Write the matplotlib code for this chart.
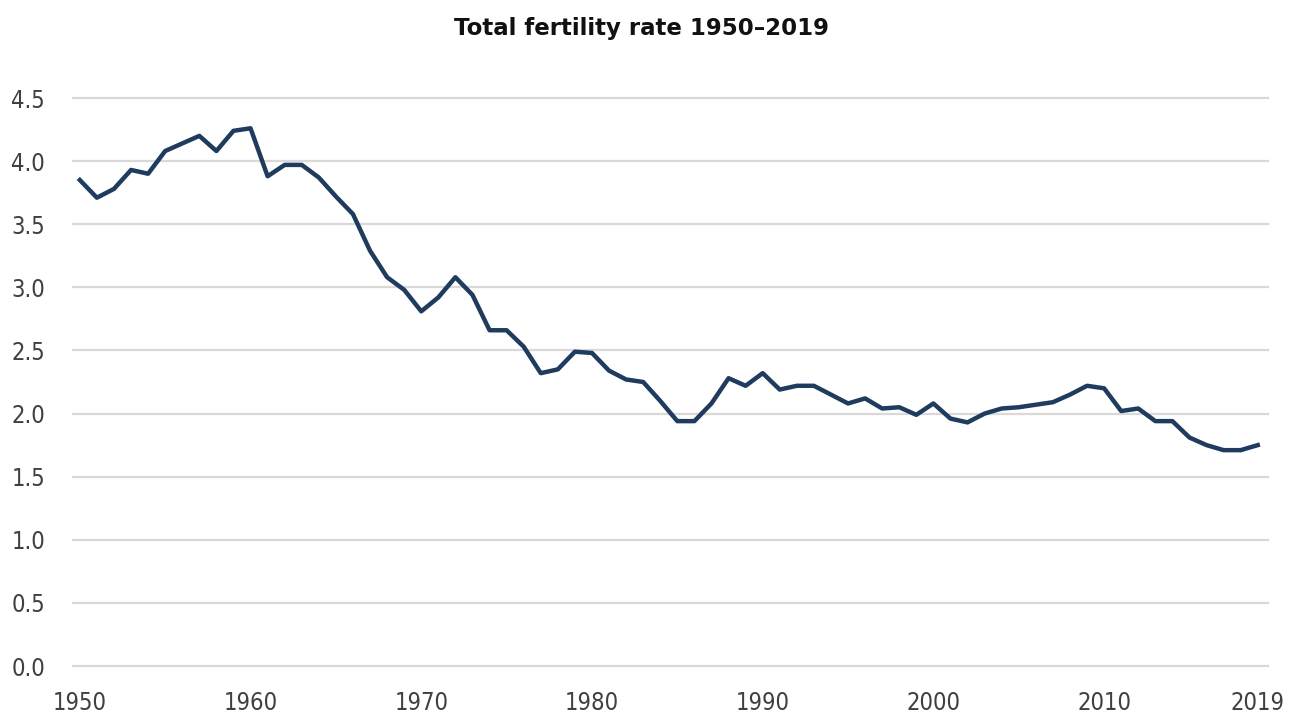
import matplotlib
matplotlib.use("Agg")
import matplotlib.pyplot as plt
from matplotlib import font_manager

# Total fertility rate
years = list(range(1950, 2020))
tfr = [
    3.85, 3.71, 3.78, 3.93, 3.90, 4.08, 4.14, 4.20, 4.08, 4.24,  # 1950s
    4.26, 3.88, 3.97, 3.97, 3.87, 3.72, 3.58, 3.29, 3.08, 2.98,  # 1960s
    2.81, 2.92, 3.08, 2.94, 2.66, 2.66, 2.53, 2.32, 2.35, 2.49,  # 1970s
    2.48, 2.34, 2.27, 2.25, 2.10, 1.94, 1.94, 2.08, 2.28, 2.22,  # 1980s
    2.32, 2.19, 2.22, 2.22, 2.15, 2.08, 2.12, 2.04, 2.05, 1.99,  # 1990s
    2.08, 1.96, 1.93, 2.00, 2.04, 2.05, 2.07, 2.09, 2.15, 2.22,  # 2000s
    2.20, 2.02, 2.04, 1.94, 1.94, 1.81, 1.75, 1.71, 1.71, 1.75,  # 2010s
]
xticks = [1950, 1960, 1970, 1980, 1990, 2000, 2010, 2019]
yticks = [0.0, 0.5, 1.0, 1.5, 2.0, 2.5, 3.0, 3.5, 4.0, 4.5]
title = "Total fertility rate 1950\u20132019"

# Calibri-like narrow digits: use a condensed face for the tick labels if installed
condensed = [f for f in font_manager.fontManager.ttflist
             if f.stretch in ("condensed", "semi-condensed") and f.name == "DejaVu Sans"]
tick_stretch = condensed[0].stretch if condensed else "normal"

fig = plt.figure(figsize=(13, 7.15), dpi=100)
ax = fig.add_axes([73 / 1300, 1 - 666 / 715, (1268 - 73) / 1300, (666 - 98) / 715])

ax.plot(years, tfr, color="#1F3B5E", linewidth=3.2, zorder=3)

ax.set_xlim(1949.6, 2019.6)
ax.set_ylim(0, 4.5)
ax.set_xticks(xticks, [str(t) for t in xticks])
ax.set_yticks(yticks, [f"{t:.1f}" for t in yticks])
ax.tick_params(axis="both", length=0, labelsize=17, labelcolor="#404040")
ax.tick_params(axis="x", pad=18)
ax.tick_params(axis="y", pad=20)
for lab in ax.get_xticklabels() + ax.get_yticklabels():
    lab.set_fontstretch(tick_stretch)
ax.grid(axis="y", color="#D9D9D9", linewidth=1.6)
for line in ax.get_ygridlines():
    line.set_clip_on(False)
ax.set_axisbelow(True)
for spine in ax.spines.values():
    spine.set_visible(False)

fig.text(0.4935, 1 - 34.5 / 715, title, ha="center", va="baseline",
         fontsize=16.5, fontweight="bold", color="#111111")

fig.savefig("out.png", dpi=100, facecolor="white")
